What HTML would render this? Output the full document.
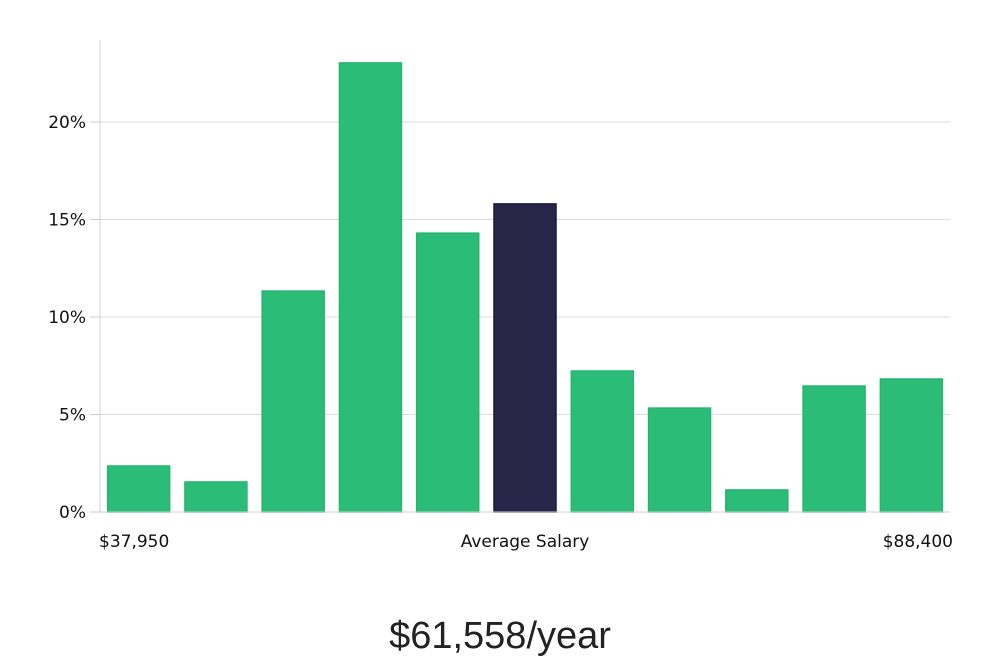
<!DOCTYPE html>
<html><head><meta charset="utf-8"><style>
html,body{margin:0;padding:0;background:#fff;}
svg{display:block;}
text{font-family:"DejaVu Sans","Liberation Sans",sans-serif;fill:#111;}
</style></head><body>
<svg id="chart" width="1000" height="660" viewBox="0 0 1000 660">
<g id="grid"></g><g id="bars"></g><g id="axes"></g>
<text x="99" y="547" font-size="17" text-anchor="start">$37,950</text>
<text x="525" y="547" font-size="17" text-anchor="middle">Average Salary</text>
<text x="953" y="547" font-size="17" text-anchor="end">$88,400</text>
<text x="500" y="648" font-size="38" text-anchor="middle" style="font-family:'Liberation Sans',sans-serif;font-weight:300;fill:#222">$61,558/year</text>
</svg>
<script>
const values = [2.36, 1.54, 11.33, 23.03, 14.3, 15.8, 7.23, 5.33, 1.13, 6.46, 6.82];
const highlightIndex = 5;
const yTicks = [0, 5, 10, 15, 20];
const yTickLabels = ["0%", "5%", "10%", "15%", "20%"];

const NS = "http://www.w3.org/2000/svg";
const x0 = 100, x1 = 950, y0 = 512, pxPerPct = 19.5;
const step = (x1 - x0) / values.length, barW = 63;
const yScale = v => y0 - v * pxPerPct;
const xScale = i => x0 + i * step + (step - barW) / 2;

const grid = document.getElementById('grid');
yTicks.forEach((t, i) => {
  const y = yScale(t);
  if (t > 0) {
    const l = document.createElementNS(NS, 'line');
    
    
    l.setAttribute('x1', x0); l.setAttribute('x2', x1);
    l.setAttribute('y1', y); l.setAttribute('y2', y);
    l.setAttribute('stroke', '#dcdcdc'); l.setAttribute('stroke-width', '1');
    grid.appendChild(l);
  }
  const tk = document.createElementNS(NS, 'line');
  
  
  tk.setAttribute('x1', 90); tk.setAttribute('x2', x0);
  tk.setAttribute('y1', y); tk.setAttribute('y2', y);
  tk.setAttribute('stroke', '#ccc');
  grid.appendChild(tk);
  const tx = document.createElementNS(NS, 'text');
  
  
  tx.setAttribute('x', 86); tx.setAttribute('y', y + 6);
  tx.setAttribute('text-anchor', 'end'); tx.setAttribute('font-size', '17');
  tx.textContent = yTickLabels[i];
  grid.appendChild(tx);
});

const bars = document.getElementById('bars');
values.forEach((v, i) => {
  const r = document.createElementNS(NS, 'rect');
  
  
  const hi = i === highlightIndex;
  r.setAttribute('x', xScale(i) + 0.5);
  r.setAttribute('y', yScale(v));
  r.setAttribute('width', barW - 1);
  r.setAttribute('height', y0 - yScale(v));
  r.setAttribute('fill', hi ? '#292649' : '#2bbd77');
  r.setAttribute('stroke', hi ? '#1a1838' : '#26b56f');
  r.setAttribute('stroke-width', '1.5');
  bars.appendChild(r);
});

const axes = document.getElementById('axes');
const ya = document.createElementNS(NS, 'line');


ya.setAttribute('x1', x0); ya.setAttribute('x2', x0);
ya.setAttribute('y1', 40); ya.setAttribute('y2', y0);
ya.setAttribute('stroke', '#d0d0d0');
axes.appendChild(ya);
const xa = document.createElementNS(NS, 'line');


xa.setAttribute('x1', x0); xa.setAttribute('x2', x1);
xa.setAttribute('y1', y0); xa.setAttribute('y2', y0);
xa.setAttribute('stroke', '#d0d0d0');
axes.appendChild(xa);
</script>
</body></html>
